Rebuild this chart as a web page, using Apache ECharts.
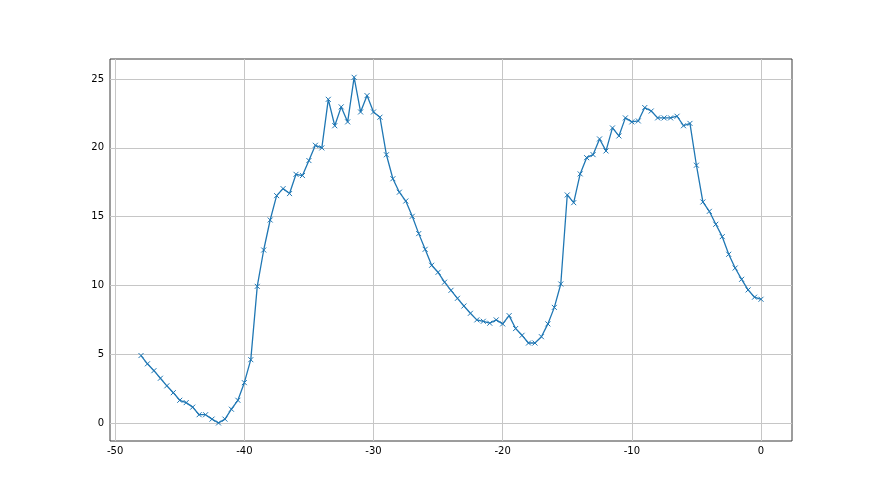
<!DOCTYPE html>
<html>
<head>
<meta charset="utf-8">
<script src="https://cdn.jsdelivr.net/npm/echarts@6/dist/echarts.min.js"></script>
<style>html,body{margin:0;padding:0;background:#fff}#c{width:880px;height:495px}</style>
</head>
<body>
<div id="c"></div>
<script>
var xStart = -48;
var xStep = 0.5;
var yValues = [
  4.9, 4.3, 3.8, 3.25, 2.7, 2.2, 1.65, 1.48, 1.15, 0.6, 0.6, 0.28, 0.0, 0.28, 1.0, 1.65, 2.93, 4.6,
  9.93, 12.57, 14.75, 16.52, 17.03, 16.67, 18.07, 17.98, 19.07, 20.18, 19.99, 23.52, 21.6, 22.97, 21.88, 25.12, 22.6, 23.79, 22.6, 22.22,
  19.49, 17.75, 16.77, 16.13, 15.02, 13.76, 12.62, 11.46, 10.95, 10.23, 9.64, 9.06, 8.5, 7.97, 7.49, 7.39, 7.25, 7.49, 7.2, 7.8,
  6.86, 6.37, 5.81, 5.81, 6.27, 7.2, 8.4, 10.1, 16.57, 16.01, 18.1,
  19.28, 19.5, 20.64, 19.77, 21.44, 20.86, 22.17, 21.88, 21.95, 22.92, 22.67, 22.17, 22.17, 22.17, 22.29, 21.6, 21.77, 18.73, 16.06, 15.38,
  14.44, 13.54, 12.26, 11.26, 10.44, 9.67, 9.14, 8.99
];
var xTicks = [-50, -40, -30, -20, -10, 0];
var yTicks = [0, 5, 10, 15, 20, 25];
var xValues = yValues.map(function (v, i) { return xStart + i * xStep; });
var data = xValues.map(function (x, i) { return [x, yValues[i]]; });

var chart = echarts.init(document.getElementById('c'), null, {renderer: 'canvas'});
var labelStyle = {color: '#000', fontSize: 10, fontFamily: 'DejaVu Sans'};
chart.setOption({
  animation: false,
  backgroundColor: '#fff',
  grid: {left: 110, right: 88, top: 59, bottom: 54, show: true, borderColor: '#3a3a3a', borderWidth: 1, containLabel: false},
  xAxis: {
    type: 'value', min: -50.4, max: 2.4,
    axisLine: {show: false},
    axisTick: {show: true, length: 3.5, customValues: xTicks, lineStyle: {color: '#000', width: 1}},
    axisLabel: Object.assign({margin: 5, customValues: xTicks}, labelStyle),
    splitLine: {show: false}
  },
  yAxis: {
    type: 'value', min: -1.31, max: 26.45,
    axisLine: {show: false},
    axisTick: {show: true, length: 3.5, customValues: yTicks, lineStyle: {color: '#000', width: 1}},
    axisLabel: Object.assign({margin: 6, customValues: yTicks}, labelStyle),
    splitLine: {show: false}
  },
  series: [{
    type: 'line',
    data: data,
    z: 3,
    lineStyle: {color: '#1f77b4', width: 1.3},
    symbol: 'path://M0,0L10,10M10,0L0,10',
    symbolSize: 5,
    showSymbol: true,
    itemStyle: {color: 'rgba(0,0,0,0)', borderColor: '#1f77b4', borderWidth: 1},
    markLine: {
      silent: true,
      symbol: 'none',
      label: {show: false},
      lineStyle: {color: '#c6c6c6', width: 1, type: 'solid'},
      z: 1,
      data: xTicks.map(function (t) { return {xAxis: t}; }).concat(yTicks.map(function (t) { return {yAxis: t}; }))
    }
  }]
});
</script>
</body>
</html>
